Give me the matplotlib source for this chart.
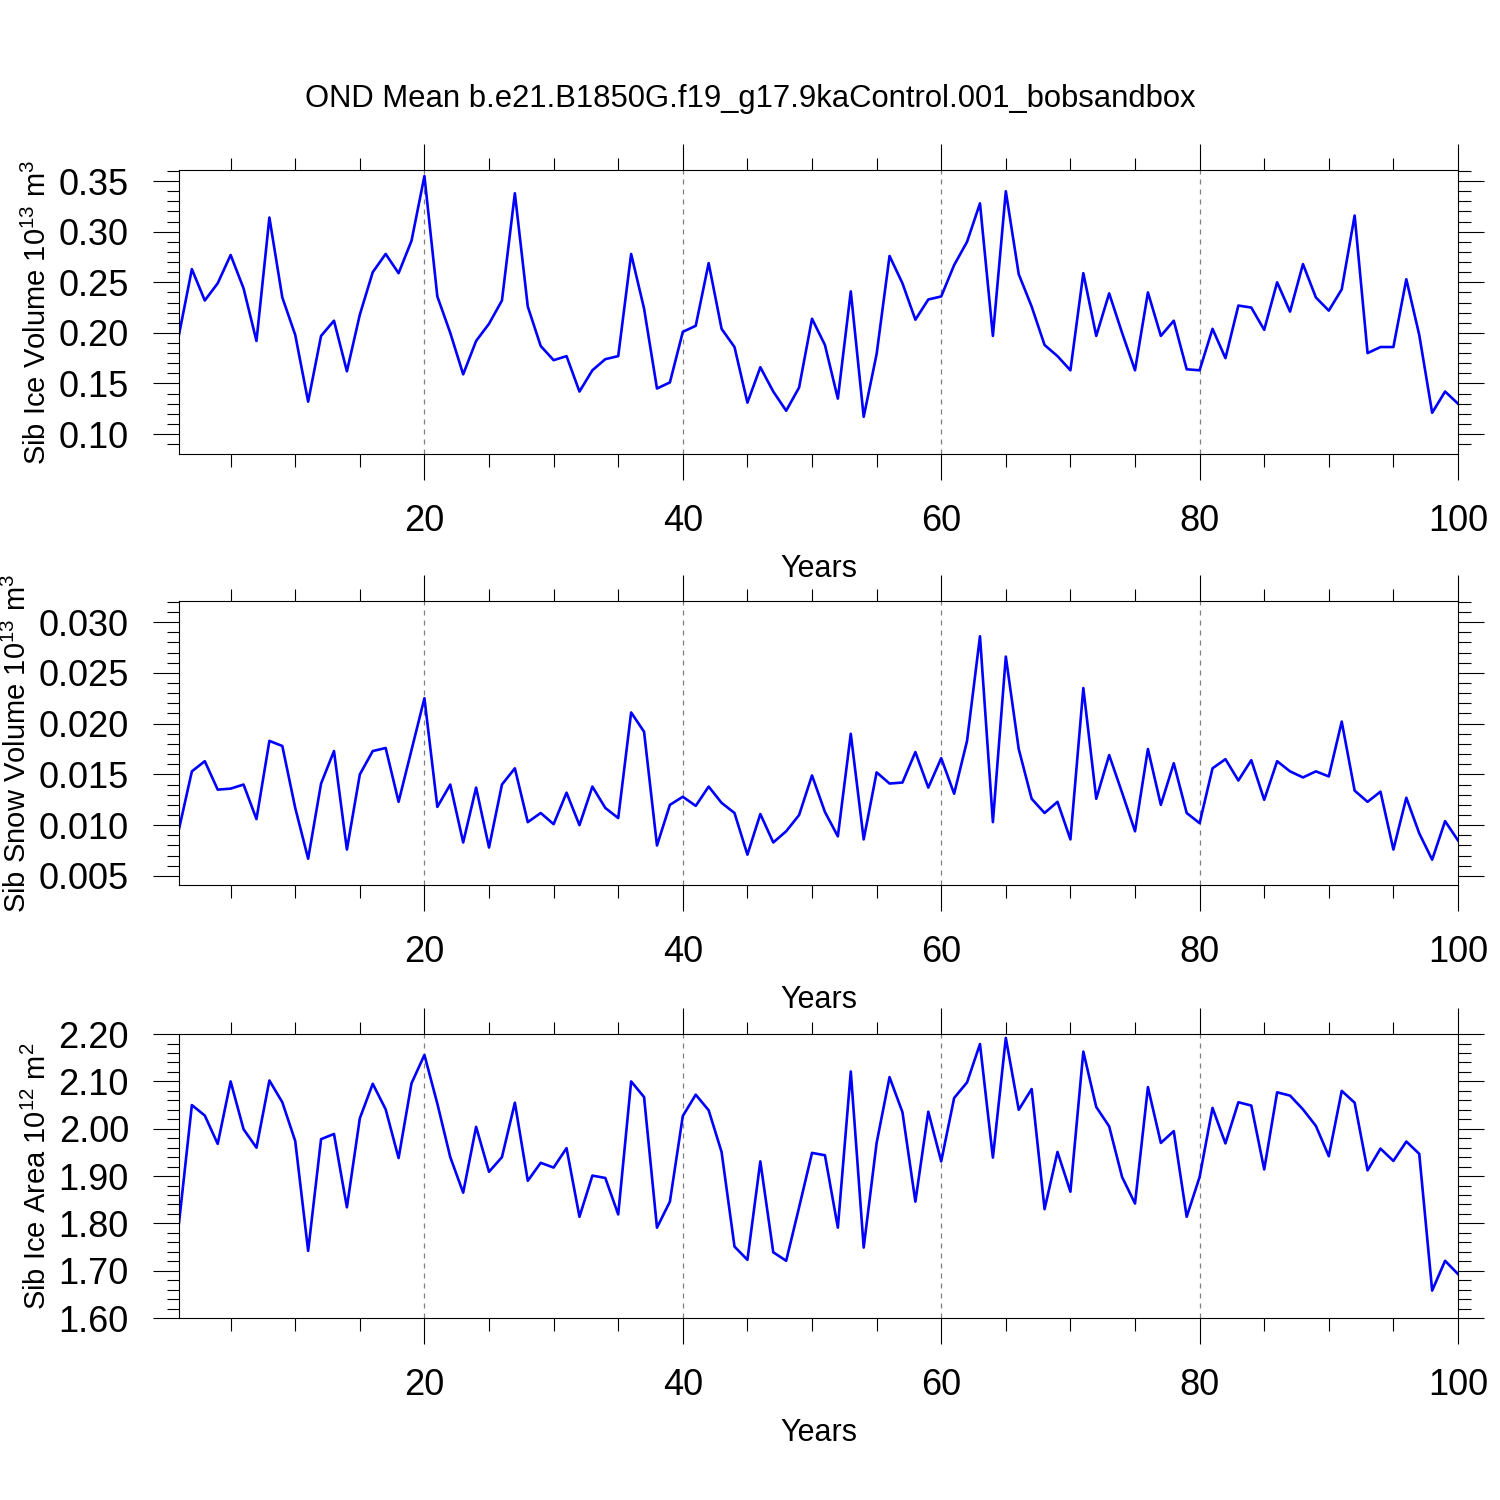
import matplotlib
matplotlib.use('Agg')
import matplotlib.pyplot as plt
import numpy as np
from matplotlib.ticker import MultipleLocator

plt.rcParams['font.family'] = ['Liberation Sans', 'DejaVu Sans']
plt.rcParams['mathtext.fontset'] = 'custom'
plt.rcParams['mathtext.rm'] = 'Liberation Sans'
plt.rcParams['mathtext.it'] = 'Liberation Sans'

years = np.arange(1, 101)

# Sib ice volume (10^13 m^3)
ice_volume = [
    0.198, 0.263, 0.232, 0.249, 0.277, 0.244, 0.192, 0.314, 0.235, 0.198,
    0.132, 0.197, 0.212, 0.162, 0.218, 0.260, 0.278, 0.259, 0.291, 0.355,
    0.236, 0.200, 0.159, 0.192, 0.209, 0.232, 0.338, 0.226, 0.187, 0.173,
    0.177, 0.142, 0.163, 0.174, 0.177, 0.278, 0.224, 0.145, 0.151, 0.201,
    0.207, 0.269, 0.204, 0.186, 0.131, 0.166, 0.142, 0.123, 0.146, 0.214,
    0.188, 0.135, 0.241, 0.117, 0.179, 0.276, 0.249, 0.213, 0.233, 0.236,
    0.267, 0.290, 0.328, 0.197, 0.340, 0.258, 0.226, 0.188, 0.177, 0.163,
    0.259, 0.197, 0.239, 0.200, 0.163, 0.240, 0.197, 0.212, 0.164, 0.163,
    0.204, 0.175, 0.227, 0.225, 0.203, 0.250, 0.221, 0.268, 0.235, 0.222,
    0.243, 0.316, 0.180, 0.186, 0.186, 0.253, 0.198, 0.121, 0.142, 0.130,
]

# Sib snow volume (10^13 m^3)
snow_volume = [
    0.0096, 0.0153, 0.0163, 0.0135, 0.0136, 0.0140, 0.0106, 0.0183, 0.0178, 0.0117,
    0.0067, 0.0141, 0.0173, 0.0076, 0.0150, 0.0173, 0.0176, 0.0123, 0.0174, 0.0225,
    0.0118, 0.0140, 0.0083, 0.0137, 0.0078, 0.0140, 0.0156, 0.0103, 0.0112, 0.0101,
    0.0132, 0.0100, 0.0138, 0.0117, 0.0107, 0.0211, 0.0192, 0.0080, 0.0120, 0.0128,
    0.0119, 0.0138, 0.0122, 0.0112, 0.0071, 0.0111, 0.0083, 0.0094, 0.0110, 0.0149,
    0.0113, 0.0089, 0.0190, 0.0086, 0.0152, 0.0141, 0.0142, 0.0172, 0.0137, 0.0166,
    0.0131, 0.0183, 0.0286, 0.0103, 0.0266, 0.0175, 0.0126, 0.0112, 0.0123, 0.0086,
    0.0235, 0.0126, 0.0169, 0.0132, 0.0094, 0.0175, 0.0120, 0.0161, 0.0112, 0.0102,
    0.0156, 0.0165, 0.0144, 0.0164, 0.0125, 0.0163, 0.0153, 0.0147, 0.0153, 0.0148,
    0.0202, 0.0134, 0.0123, 0.0133, 0.0076, 0.0127, 0.0092, 0.0066, 0.0104, 0.0085,
]

# Sib ice area (10^12 m^2)
ice_area = [
    1.800, 2.050, 2.028, 1.968, 2.100, 1.999, 1.960, 2.102, 2.056, 1.974,
    1.742, 1.978, 1.989, 1.834, 2.022, 2.095, 2.041, 1.938, 2.096, 2.156,
    2.053, 1.940, 1.865, 2.004, 1.909, 1.940, 2.055, 1.890, 1.928, 1.918,
    1.959, 1.814, 1.901, 1.896, 1.819, 2.100, 2.067, 1.791, 1.846, 2.027,
    2.072, 2.039, 1.951, 1.751, 1.723, 1.931, 1.739, 1.721, 1.834, 1.949,
    1.944, 1.791, 2.121, 1.749, 1.970, 2.109, 2.035, 1.846, 2.036, 1.931,
    2.065, 2.098, 2.179, 1.939, 2.192, 2.040, 2.084, 1.830, 1.951, 1.867,
    2.163, 2.046, 2.005, 1.898, 1.842, 2.088, 1.970, 1.995, 1.814, 1.898,
    2.044, 1.969, 2.056, 2.049, 1.914, 2.077, 2.070, 2.041, 2.006, 1.942,
    2.080, 2.055, 1.912, 1.958, 1.932, 1.973, 1.947, 1.658, 1.721, 1.693,
]

title = 'OND Mean b.e21.B1850G.f19_g17.9kaControl.001_bobsandbox'

panels = [
    (ice_volume, r'Sib Ice Volume 10$^{13}$ m$^{3}$', (0.0802, 0.3609), 0.05, 0.01, '%.2f'),
    (snow_volume, r'Sib Snow Volume 10$^{13}$ m$^{3}$', (0.00411, 0.03207), 0.005, 0.001, '%.3f'),
    (ice_area, r'Sib Ice Area 10$^{12}$ m$^{2}$', (1.60, 2.20), 0.10, 0.02, '%.2f'),
]

fig = plt.figure(figsize=(15, 15), dpi=100)
bottoms = [0.6973, 0.41, 0.1213]

for (vals, ylab, ylim, major, minor, fmt), b in zip(panels, bottoms):
    ax = fig.add_axes([0.1193, b, 0.8527, 0.1893])
    ax.plot(years, vals, color='blue', linewidth=1.9)
    ax.set_xlim(1, 100)
    ax.set_ylim(*ylim)

    # dashed verticals at the major x ticks
    for xv in [20, 40, 60, 80]:
        ax.axvline(xv, color='gray', linestyle=(0, (4, 4)), linewidth=0.9, zorder=0)

    ax.xaxis.set_major_locator(MultipleLocator(20))
    ax.xaxis.set_minor_locator(MultipleLocator(5))
    ax.yaxis.set_major_locator(MultipleLocator(major))
    ax.yaxis.set_minor_locator(MultipleLocator(minor))
    ax.yaxis.set_major_formatter(matplotlib.ticker.FormatStrFormatter(fmt))

    ax.tick_params(which='both', direction='out', top=True, right=True,
                   labeltop=False, labelright=False, width=0.8)
    ax.tick_params(which='major', length=19, labelsize=26, pad=17)
    ax.tick_params(which='minor', length=9)
    for s in ax.spines.values():
        s.set_linewidth(0.8)

    ax.set_xlabel('Years', fontsize=22, labelpad=11)
    ax.set_ylabel(ylab, fontsize=21, labelpad=5)

fig.text(0.5, 1 - 99 / 1500, title, ha='center', va='center', fontsize=22.3)

fig.savefig('out.png', dpi=100)
